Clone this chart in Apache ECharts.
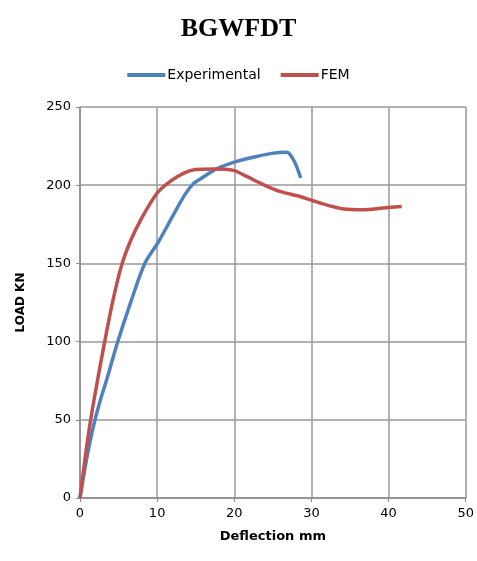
<!DOCTYPE html>
<html><head><meta charset="utf-8">
<script src="https://cdn.jsdelivr.net/npm/echarts@6/dist/echarts.min.js"></script>
<style>html,body{margin:0;padding:0;background:#fff}#c{width:477px;height:561px}</style>
</head><body><div id="c"></div>
<script>
var title = "BGWFDT";
var seriesNames = ["Experimental", "FEM"];
var xTicks = [0, 10, 20, 30, 40, 50];
var yTicks = [0, 50, 100, 150, 200, 250];
var expX = [0, 0.4, 0.9, 1.7, 2.6, 3.46, 4.9, 6.7, 8.4, 10.2, 12.1, 13.6, 14.7, 15.6, 17.7, 20.3, 22.9, 25.1, 26.8, 27.8, 28.6];
var expY = [0, 12, 26, 45, 62, 75.6, 100, 127, 150, 164, 181, 194, 201, 204, 210.4, 215.2, 218.4, 220.5, 221, 215, 204.6];
var femX = [0, 0.65, 1.38, 2.3, 3.2, 4.3, 5.4, 6.6, 8.0, 10, 11.7, 13.6, 15, 17.3, 19.9, 21.6, 23.8, 25.9, 28.5, 31.1, 34.2, 36.7, 39.3, 41.7];
var femY = [0, 25, 50, 76, 100, 127, 149, 165, 179, 195, 202.5, 208, 210, 210.4, 209.5, 205.6, 200.3, 196, 192.8, 188.6, 184.8, 184.3, 185.4, 186.4];
function pairs(xs, ys){ return xs.map(function(x,i){return [x, ys[i]];}); }
var chart = echarts.init(document.getElementById('c'));
chart.setOption({
  animation:false,
  title:{text:title,left:'center',top:11,textStyle:{fontFamily:'Liberation Serif',fontWeight:'bold',fontSize:26,color:'#000'}},
  legend:{top:63,left:'center',itemWidth:38,itemHeight:4,itemGap:20,icon:'rect',
    textStyle:{fontFamily:'DejaVu Sans',fontSize:14,color:'#000',padding:[0,0,0,-3]},
    data:seriesNames},
  grid:{left:80,right:11,top:107,bottom:63,containLabel:false},
  xAxis:{type:'value',min:xTicks[0],max:xTicks[xTicks.length-1],interval:10,
    name:'Deflection mm',nameLocation:'middle',nameGap:32,
    nameTextStyle:{fontFamily:'DejaVu Sans',fontWeight:'bold',fontSize:13,color:'#000'},
    axisLine:{show:true,lineStyle:{color:'#8c8c8c',width:1.5}},
    axisTick:{show:true,length:4,lineStyle:{color:'#8c8c8c'}},
    axisLabel:{fontFamily:'DejaVu Sans',fontSize:13,color:'#000',margin:9},
    splitLine:{show:true,lineStyle:{color:'#999',width:1.5}}},
  yAxis:{type:'value',min:yTicks[0],max:yTicks[yTicks.length-1],interval:50,
    name:'LOAD KN',nameLocation:'middle',nameGap:53,
    nameTextStyle:{fontFamily:'DejaVu Sans',fontWeight:'bold',fontSize:12,color:'#000'},
    axisLine:{show:true,lineStyle:{color:'#8c8c8c',width:1.5}},
    axisTick:{show:true,length:4,lineStyle:{color:'#8c8c8c'}},
    axisLabel:{fontFamily:'DejaVu Sans',fontSize:13,color:'#000',margin:9},
    splitLine:{show:true,lineStyle:{color:'#999',width:1.5}}},
  series:[
    {name:seriesNames[0],type:'line',data:pairs(expX,expY),smooth:0.3,showSymbol:false,
      lineStyle:{color:'#4F81BD',width:3.5},itemStyle:{color:'#4F81BD'}},
    {name:seriesNames[1],type:'line',data:pairs(femX,femY),smooth:0.3,showSymbol:false,
      lineStyle:{color:'#C0504D',width:3.5},itemStyle:{color:'#C0504D'}}
  ]
});
</script></body></html>
